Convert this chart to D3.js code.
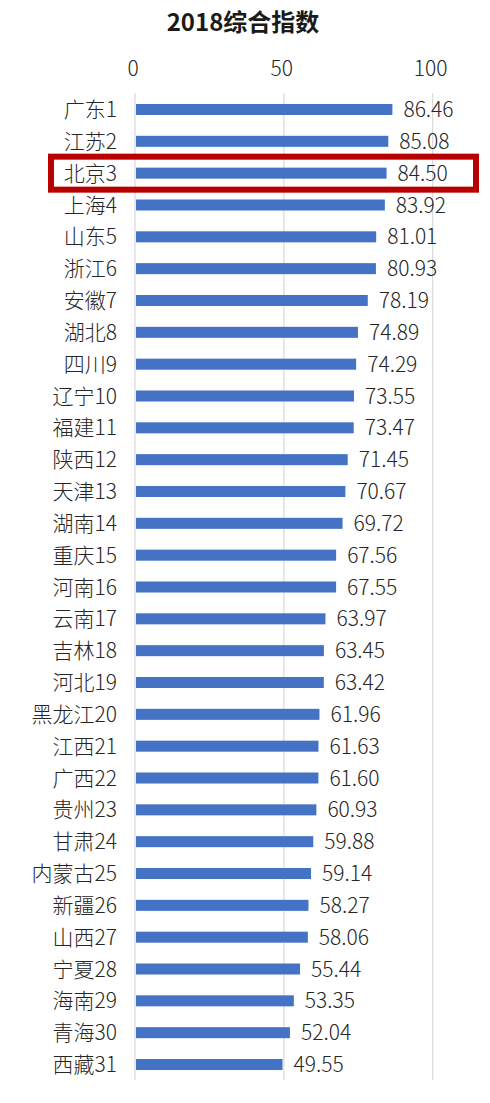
<!DOCTYPE html>
<html lang="zh">

<head>
    <meta charset="UTF-8">
    <title>2018综合指数</title>
</head>

<body style="margin:0;background:#fff">
    <script src="https://d3js.org/d3.v7.min.js"></script>
    <style>
        svg text {
            font-family: "Noto Sans CJK SC", "Noto Sans", sans-serif;
            fill: #262626;
        }
    </style>
    <script>
        var provinces = ["广东1", "江苏2", "北京3", "上海4", "山东5", "浙江6", "安徽7", "湖北8", "四川9", "辽宁10",
            "福建11", "陕西12", "天津13", "湖南14", "重庆15", "河南16", "云南17", "吉林18", "河北19", "黑龙江20",
            "江西21", "广西22", "贵州23", "甘肃24", "内蒙古25", "新疆26", "山西27", "宁夏28", "海南29", "青海30", "西藏31"];
        var scores = [86.46, 85.08, 84.50, 83.92, 81.01, 80.93, 78.19, 74.89, 74.29, 73.55,
            73.47, 71.45, 70.67, 69.72, 67.56, 67.55, 63.97, 63.45, 63.42, 61.96,
            61.63, 61.60, 60.93, 59.88, 59.14, 58.27, 58.06, 55.44, 53.35, 52.04, 49.55];
        var ticks = [0, 50, 100];
        var highlighted = "北京3";

        var width = 490, height = 1103;
        var svg = d3.select("body").append("svg")
            .attr("width", width)
            .attr("height", height);

        var x = d3.scaleLinear().domain([0, 100]).range([135, 432.7]);
        var y = d3.scaleBand().domain(provinces)
            .range([93, 1081])
            .paddingInner(0.654)
            .paddingOuter(0.345);

        // title
        svg.append("text")
            .attr("x", 243)
            .attr("y", 31)
            .attr("text-anchor", "middle")
            .style("font-size", "24px")
            .style("font-weight", "bold")
            .style("fill", "#1a1a1a")
            .text("2018综合指数");

        // vertical grid
        svg.append("g").selectAll("line")
            .data(ticks)
            .enter()
            .append("line")
            .attr("x1", d => x(d))
            .attr("x2", d => x(d))
            .attr("y1", 93)
            .attr("y2", 1080)
            .attr("stroke", "#d9d9d9")
            .attr("stroke-width", 1.2);

        // top tick labels
        svg.append("g").selectAll("text")
            .data(ticks)
            .enter()
            .append("text")
            .attr("x", d => x(d) - 2)
            .attr("y", 76)
            .attr("text-anchor", "middle")
            .style("font-size", "21px")
            .style("font-weight", 300)
            .text(d => d);

        var row = svg.append("g").selectAll("g")
            .data(provinces)
            .enter()
            .append("g")
            .attr("transform", d => "translate(0," + y(d) + ")");

        row.append("rect")
            .attr("x", x(0) + 1)
            .attr("width", (d, i) => x(scores[i]) - x(0) - 1)
            .attr("height", y.bandwidth())
            .attr("fill", "#4472c4");

        row.append("text")
            .attr("x", 117)
            .attr("y", y.bandwidth() / 2)
            .attr("dy", ".36em")
            .attr("text-anchor", "end")
            .style("font-size", "21px")
            .style("font-weight", 300)
            .text(d => d);

        row.append("text")
            .attr("x", (d, i) => x(scores[i]) + 11)
            .attr("y", y.bandwidth() / 2)
            .attr("dy", ".36em")
            .style("font-size", "21px")
            .style("font-weight", 300)
            .text((d, i) => scores[i].toFixed(2));

        // red box around the highlighted row
        var cy = y(highlighted) + y.bandwidth() / 2;
        svg.append("rect")
            .attr("x", 51)
            .attr("y", cy - 16.5)
            .attr("width", 425)
            .attr("height", 33)
            .attr("fill", "none")
            .attr("stroke", "#b80000")
            .attr("stroke-width", 6);
    </script>
</body>

</html>
